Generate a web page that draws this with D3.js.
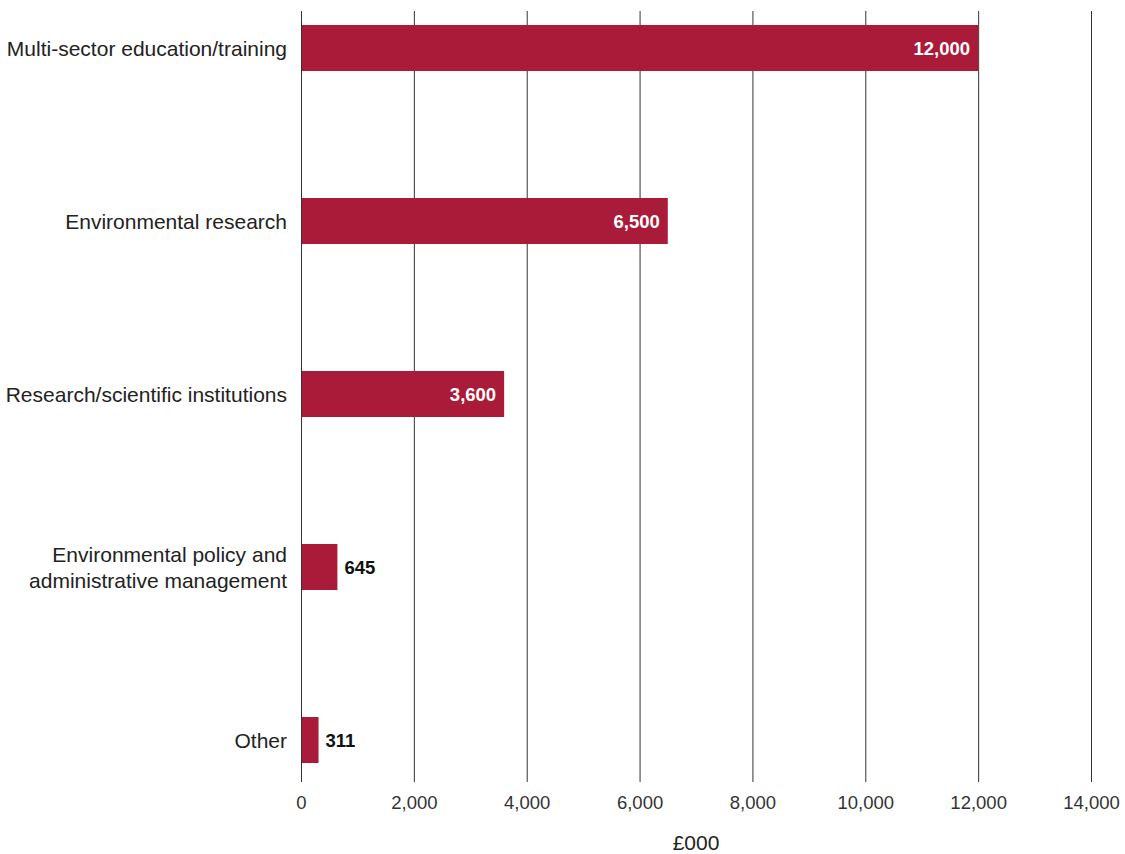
<!DOCTYPE html>
<html>
<head>
<meta charset="utf-8">
<script src="https://cdn.jsdelivr.net/npm/d3@7"></script>
<style>
  html, body { margin: 0; padding: 0; background: #fff; }
  svg { display: block; font-family: "Liberation Sans", Arial, sans-serif; }
</style>
</head>
<body>
<svg id="chart" width="1125" height="854"></svg>
<script>
// Spending by sector, £000
const categories = [
  ["Multi-sector education/training"],
  ["Environmental research"],
  ["Research/scientific institutions"],
  ["Environmental policy and", "administrative management"],
  ["Other"]
];
const values = [12000, 6500, 3600, 645, 311];
const tickValues = [0, 2000, 4000, 6000, 8000, 10000, 12000, 14000];
const axisTitle = "£000";

const svg = d3.select("#chart");
const barColor = "#a91b38";
const gridColor = "#333";

const x = d3.scaleLinear().domain([0, 14000]).range([301, 1091]);
const y = d3.scaleBand()
  .domain(d3.range(categories.length))
  .range([-38.5, 826.5])
  .paddingInner(0.734)
  .paddingOuter(0.367);

const gridTop = 11, gridBottom = 782;

// vertical gridlines + tick labels
const xAxis = d3.axisBottom(x)
  .tickValues(tickValues)
  .tickFormat(d3.format(","))
  .tickSize(gridBottom - gridTop)
  .tickPadding(14);

const gx = svg.append("g")
  .attr("transform", `translate(0,${gridTop})`)
  .call(xAxis);
gx.select(".domain").remove();
gx.selectAll(".tick line").attr("stroke", gridColor).attr("stroke-width", 1);
gx.selectAll(".tick text")
  .attr("fill", "#333")
  .attr("font-size", 18.5)
  .attr("font-family", "Liberation Sans, Arial, sans-serif");

// axis title
svg.append("text")
  .attr("x", (x(0) + x(14000)) / 2)
  .attr("y", 850)
  .attr("text-anchor", "middle")
  .attr("fill", "#222")
  .attr("font-size", 21)
  .text(axisTitle);

// bars
svg.append("g").selectAll("rect")
  .data(values)
  .join("rect")
  .attr("x", x(0))
  .attr("y", (d, i) => y(i))
  .attr("width", d => x(d) - x(0))
  .attr("height", y.bandwidth())
  .attr("fill", barColor);

// zero line redrawn on top of the bars
svg.append("line")
  .attr("x1", x(0) + 0.5).attr("x2", x(0) + 0.5)
  .attr("y1", gridTop).attr("y2", gridBottom)
  .attr("stroke", gridColor);

// value labels: inside for long bars, outside for short ones
const fmt = d3.format(",");
const inside = d => x(d) - x(0) > 100;
svg.append("g").selectAll("text")
  .data(values)
  .join("text")
  .attr("x", d => inside(d) ? x(d) - 8 : x(d) + 7)
  .attr("y", (d, i) => y(i) + y.bandwidth() / 2)
  .attr("dy", "0.36em")
  .attr("text-anchor", d => inside(d) ? "end" : "start")
  .attr("fill", d => inside(d) ? "#fff" : "#111")
  .attr("font-size", 18.5)
  .attr("font-weight", "bold")
  .text(d => fmt(d));

// category labels
const lineH = 26;
const labels = svg.append("g").selectAll("text")
  .data(categories)
  .join("text")
  .attr("text-anchor", "end")
  .attr("fill", "#222")
  .attr("font-size", 21)
  .attr("y", (d, i) => y(i) + y.bandwidth() / 2 - (d.length - 1) * lineH / 2);
labels.selectAll("tspan")
  .data(d => d)
  .join("tspan")
  .attr("x", 287)
  .attr("dy", (d, j) => j === 0 ? "0.36em" : lineH)
  .text(d => d);
</script>
</body>
</html>
